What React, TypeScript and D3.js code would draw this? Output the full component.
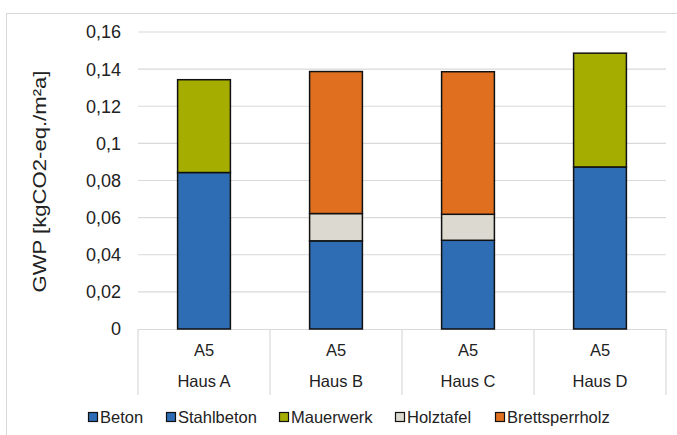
import React from "react";
import * as d3 from "d3";

const houses = ["Haus A", "Haus B", "Haus C", "Haus D"];
const phase = ["A5", "A5", "A5", "A5"];
const seriesNames = ["Beton", "Stahlbeton", "Mauerwerk", "Holztafel", "Brettsperrholz"];
const seriesColors = ["#2e6db4", "#2e6db4", "#a5ad00", "#dcdad0", "#e07020"];
const beton = [0, 0, 0, 0];
const stahlbeton = [0.0843, 0.0475, 0.0478, 0.0873];
const mauerwerk = [0.05, 0, 0, 0.0613];
const holztafel = [0, 0.0147, 0.014, 0];
const brettsperrholz = [0, 0.0765, 0.0768, 0];
const yTicks = [0, 0.02, 0.04, 0.06, 0.08, 0.1, 0.12, 0.14, 0.16];

const W = 677;
const H = 435;
const left = 138;
const right = 666;
const top = 32;
const bottom = 329;
const font = "'Liberation Sans', Arial, sans-serif";

export default function App() {
  const values = [beton, stahlbeton, mauerwerk, holztafel, brettsperrholz];
  const rows = houses.map((h, i) => {
    const r: Record<string, number | string> = { house: h };
    seriesNames.forEach((s, k) => (r[s] = values[k][i]));
    return r;
  });
  const stack = d3.stack<any>().keys(seriesNames)(rows as any);

  const x = d3.scaleBand<string>().domain(houses).range([left, right]).paddingInner(0.6).paddingOuter(0.3);
  const band = d3.scaleBand<string>().domain(houses).range([left, right]);
  const y = d3.scaleLinear().domain([0, 0.16]).range([bottom, top]);
  const fmt = (v: number) => (v === 0 ? "0" : String(+v.toFixed(2)).replace(".", ","));

  const legendX = [88, 166, 279, 395, 495];

  return (
    <svg width={W} height={H} style={{ position: "absolute", left: 0, top: 0, background: "#fff" }}>
      <rect x={6.5} y={13.5} width={W} height={H} fill="none" stroke="#d9d9d9" strokeWidth={1} />
      {yTicks.slice(1).map((t) => (
        <line key={t} x1={left} x2={right} y1={y(t)} y2={y(t)} stroke="#d9d9d9" strokeWidth={1.2} />
      ))}
      {yTicks.map((t) => (
        <text key={"l" + t} x={121} y={y(t)} dy="0.36em" textAnchor="end" fontFamily={font} fontSize={18} fill="#222">
          {fmt(t)}
        </text>
      ))}
      <text
        transform={`translate(46,${181.5}) rotate(-90)`}
        textAnchor="middle"
        fontFamily={font}
        fontSize={19}
        textLength={222}
        lengthAdjust="spacingAndGlyphs"
        fill="#222"
      >
        GWP [kgCO2-eq./m²a]
      </text>
      {/* category axis with group separators */}
      <line x1={left} x2={right} y1={bottom + 0.5} y2={bottom + 0.5} stroke="#d9d9d9" strokeWidth={1.2} />
      {[...houses.map((h) => band(h)!), right].map((sx, i) => (
        <line key={"s" + i} x1={sx} x2={sx} y1={bottom} y2={395} stroke="#d9d9d9" strokeWidth={1.2} />
      ))}
      {stack.map((layer, k) =>
        layer.map((d, i) =>
          d[1] - d[0] > 0 ? (
            <rect
              key={k + "-" + i}
              x={x(houses[i])}
              y={y(d[1])}
              width={x.bandwidth()}
              height={y(d[0]) - y(d[1])}
              fill={seriesColors[k]}
              stroke="#111"
              strokeWidth={1.5}
            />
          ) : null
        )
      )}
      {houses.map((h, i) => {
        const cx = band(h)! + band.bandwidth() / 2;
        return (
          <g key={"c" + h} fontFamily={font} fontSize={16.5} fill="#222" textAnchor="middle">
            <text x={cx} y={356}>{phase[i]}</text>
            <text x={cx} y={387}>{h}</text>
          </g>
        );
      })}
      {seriesNames.map((s, k) => (
        <g key={"lg" + s}>
          <rect x={legendX[k] + 0.5} y={412.5} width={9} height={9} fill={seriesColors[k]} stroke="#111" strokeWidth={1.2} />
          <text x={legendX[k] + 12} y={422.5} fontFamily={font} fontSize={16.5} fill="#222">
            {s}
          </text>
        </g>
      ))}
    </svg>
  );
}
